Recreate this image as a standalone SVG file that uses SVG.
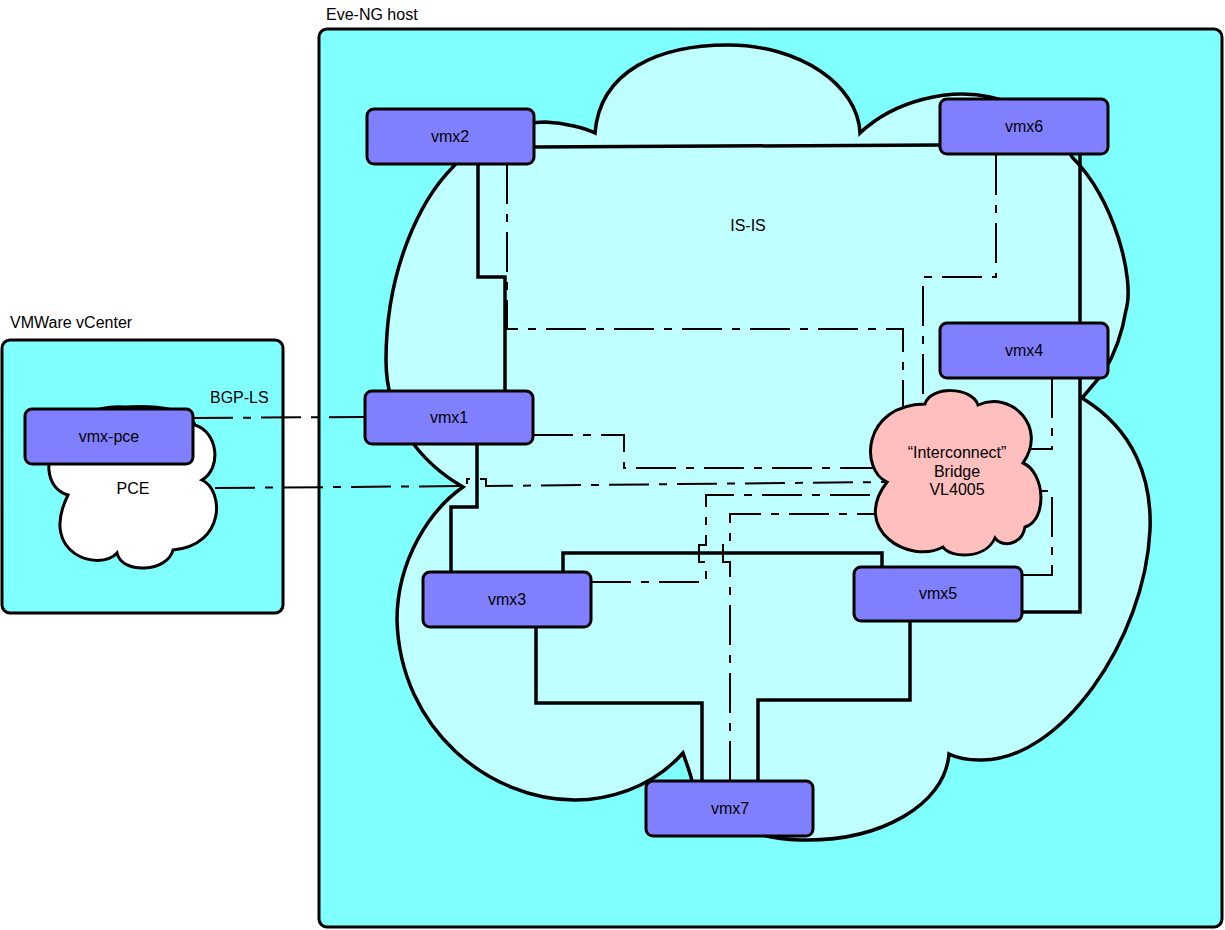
<svg xmlns="http://www.w3.org/2000/svg" width="1225" height="930" viewBox="0 0 1225 930">
  <style>
    .frame { fill: #80FFFF; stroke: #000; stroke-width: 3; }
    .cloud { fill: #C0FFFF; stroke: #000; stroke-width: 3.5; stroke-linejoin: miter; }
    .pce { fill: #FFFFFF; stroke: #000; stroke-width: 3; }
    .bridge { fill: #FFBFBF; stroke: #000; stroke-width: 3; }
    .router { fill: #8080FF; stroke: #000; stroke-width: 3; }
    .link { fill: none; stroke: #000; stroke-width: 3.5; stroke-linejoin: miter; }
    .dd { fill: none; stroke: #000; stroke-width: 2; stroke-dasharray: 40 10 8 10; }
    text { font-family: "Liberation Sans", Arial, Helvetica, sans-serif; font-size: 16px; fill: #000; }
    .c { text-anchor: middle; }
  </style>

  <!-- hosting environments -->
  <g id="eve-ng-host">
    <rect class="frame" x="319" y="29" width="903" height="898" rx="8"/>
    <text x="326" y="20">Eve-NG host</text>
  </g>
  <g id="vmware-vcenter">
    <rect class="frame" x="2" y="340" width="281" height="273" rx="8"/>
    <text x="10" y="328">VMWare vCenter</text>
  </g>

  <!-- IS-IS domain cloud -->
  <g id="isis-domain">
    <path class="cloud" d="M595,133 C600,70 660,45 728,45 C800,45 858,85 860,133 C895,100 950,88 990,97 C1030,105 1060,130 1072,157 C1115,200 1135,280 1126,310 C1122,335 1114,355 1104,372 L1082,398 C1135,430 1152,480 1150,530 C1145,640 1060,762 980,760 C965,760 955,757 949,754 C945,805 880,842 800,840 C740,838 700,810 692,781 C690,772 686,762 683,753 C650,790 605,800 575,800 C490,800 400,730 397,620 C397,560 430,510 463,487 C420,462 386,420 386,360 C386,270 420,200 453,167 C475,140 515,122 545,122 C565,123 585,128 595,133 Z"/>
    <text class="c" x="748" y="231">IS-IS</text>
  </g>

  <!-- PCE cloud -->
  <g id="pce-cloud">
    <path class="pce" d="M68,495 C44,488 44,455 60,440 C70,415 100,405 125,407 C160,405 190,410 195,425 C218,432 222,468 202,480 C224,490 226,545 173,550 C168,572 122,575 117,553 C100,572 38,555 68,495 Z"/>
    <text class="c" x="133" y="494">PCE</text>
  </g>

  <!-- links -->
  <g id="connectors">
    <!-- physical IS-IS links -->
    <path class="link" d="M534,147 L940,145"/>
    <path class="link" d="M478,164 V277 H505 V391"/>
    <path class="link" d="M1080,155 V323"/>
    <path class="link" d="M1080,378 V612 H1022"/>
    <path class="link" d="M477,444 V507 H451 V572"/>
    <path class="link" d="M563,572 V553 H882 V567"/>
    <path class="link" d="M536,627 V703 H702 V781"/>
    <path class="link" d="M910,621 V700 H758 V781"/>

    <!-- links into the interconnect bridge -->
    <path class="dd" d="M193,418 L365,417"/>
    <path class="dd" d="M215,488 L467,486 V479 H486 V486 L890,482"/>
    <path class="dd" d="M507,164 V329 H903 V412"/>
    <path class="dd" d="M996,155 V277 H923 V402"/>
    <path class="dd" d="M1052,378 V449 H1030"/>
    <path class="dd" d="M1022,575 H1052 V491 H1035"/>
    <path class="dd" d="M533,435 H624 V468 H880"/>
    <path class="dd" d="M591,582 H706 V562 H699 V545 H706 V495 H880"/>
    <path class="dd" d="M730,781 V562 H723 V545 H730 V514 H880"/>
    <text x="210" y="403">BGP-LS</text>
  </g>

  <!-- interconnect bridge -->
  <g id="bridge-vl4005">
    <path class="bridge" d="M925,404 C930,386 972,386 978,405 C1012,390 1048,428 1023,463 C1045,472 1048,520 1025,527 C1022,545 1002,548 995,538 C985,560 950,558 943,547 C910,565 850,530 887,482 C860,470 862,405 925,404 Z"/>
    <text class="c" x="957" y="458">“Interconnect”</text>
    <text class="c" x="957" y="477">Bridge</text>
    <text class="c" x="957" y="495">VL4005</text>
  </g>

  <!-- routers -->
  <g id="vmx2">
    <rect class="router" x="367" y="109" width="167" height="55" rx="7"/>
    <text class="c" x="450" y="142">vmx2</text>
  </g>
  <g id="vmx6">
    <rect class="router" x="940" y="99" width="168" height="55" rx="7"/>
    <text class="c" x="1024" y="132">vmx6</text>
  </g>
  <g id="vmx4">
    <rect class="router" x="940" y="323" width="168" height="55" rx="7"/>
    <text class="c" x="1024" y="356">vmx4</text>
  </g>
  <g id="vmx1">
    <rect class="router" x="365" y="391" width="168" height="53" rx="7"/>
    <text class="c" x="449" y="423">vmx1</text>
  </g>
  <g id="vmx3">
    <rect class="router" x="423" y="572" width="168" height="55" rx="7"/>
    <text class="c" x="507" y="605">vmx3</text>
  </g>
  <g id="vmx5">
    <rect class="router" x="854" y="567" width="168" height="54" rx="7"/>
    <text class="c" x="938" y="599">vmx5</text>
  </g>
  <g id="vmx7">
    <rect class="router" x="646" y="781" width="167" height="55" rx="7"/>
    <text class="c" x="730" y="814">vmx7</text>
  </g>
  <g id="vmx-pce">
    <rect class="router" x="25" y="409" width="168" height="55" rx="7"/>
    <text class="c" x="109" y="442">vmx-pce</text>
  </g>
</svg>
